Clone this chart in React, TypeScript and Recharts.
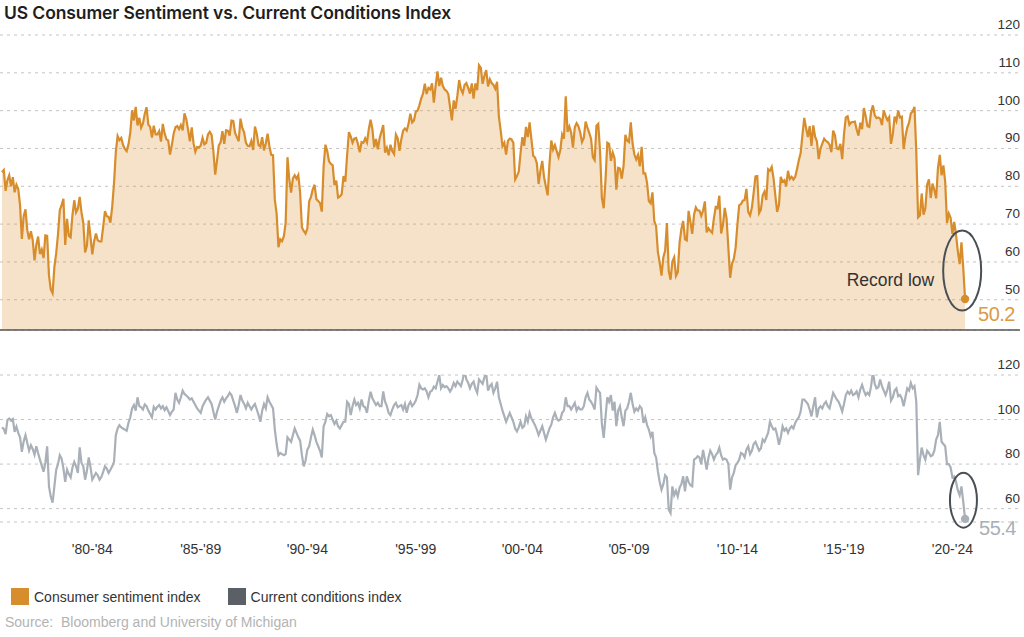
import React from "react";
import {
  AreaChart,
  Area,
  LineChart,
  Line,
  XAxis,
  YAxis,
  CartesianGrid,
  ReferenceLine,
  ReferenceDot,
} from "recharts";

// Monthly readings, Jan 1978 .. Jun 2022 (preliminary)
const sentiment = [
  83.7, 84.3, 78.8, 81.6, 82.9, 80.0, 82.4, 78.4, 80.4, 79.3, 75.0, 66.1,
  72.1, 73.9, 68.4, 66.0, 68.1, 65.8, 60.4, 64.5, 66.7, 62.1, 63.3, 61.0,
  67.0, 66.9, 56.5, 52.7, 51.7, 58.7, 62.3, 67.3, 73.7, 75.0, 76.7, 64.5,
  71.4, 66.9, 66.5, 72.4, 76.3, 73.1, 74.1, 77.2, 73.1, 70.3, 62.5, 64.3,
  71.0, 66.5, 62.0, 65.5, 67.5, 65.7, 65.4, 65.4, 69.3, 73.4, 72.1, 71.9,
  70.4, 74.6, 80.8, 89.1, 93.3, 92.2, 92.8, 90.9, 89.9, 89.3, 91.1, 94.2,
  100.1, 97.4, 101.0, 96.1, 98.1, 95.5, 96.6, 99.1, 100.9, 96.3, 95.7, 92.9,
  96.0, 93.7, 93.7, 94.6, 91.8, 96.5, 94.0, 92.4, 92.1, 88.4, 90.9, 93.9,
  95.6, 95.9, 95.1, 96.2, 94.8, 99.3, 97.7, 94.9, 91.9, 95.6, 91.4, 89.1,
  90.4, 90.2, 90.8, 92.8, 91.1, 91.5, 93.7, 94.4, 93.6, 89.3, 83.1, 86.8,
  90.8, 91.6, 94.6, 91.2, 94.8, 94.7, 93.4, 97.4, 97.3, 94.1, 93.0, 91.9,
  97.9, 95.4, 94.3, 91.5, 90.7, 90.6, 92.0, 89.6, 95.8, 93.9, 90.9, 90.5,
  93.0, 89.5, 91.3, 93.9, 90.6, 88.3, 88.2, 76.4, 72.8, 63.9, 66.0, 65.5,
  66.8, 70.4, 87.7, 81.8, 78.3, 82.1, 82.9, 82.0, 83.0, 78.3, 69.1, 68.2,
  67.5, 68.8, 76.0, 77.2, 79.2, 80.4, 76.6, 76.1, 75.6, 73.3, 85.3, 91.0,
  89.3, 86.6, 85.9, 85.6, 80.3, 81.5, 77.0, 77.3, 77.9, 82.7, 81.2, 88.2,
  94.3, 93.2, 91.5, 92.6, 92.8, 91.2, 89.0, 91.7, 91.5, 92.7, 91.6, 95.1,
  97.6, 95.1, 90.3, 92.5, 89.8, 92.7, 94.4, 96.2, 88.9, 90.2, 88.2, 91.0,
  89.3, 88.5, 93.7, 92.7, 89.4, 92.4, 94.7, 95.3, 94.7, 96.5, 99.2, 96.9,
  97.4, 99.7, 100.0, 101.4, 103.2, 104.5, 107.1, 104.4, 106.0, 105.6, 107.2, 102.1,
  106.6, 110.4, 106.5, 108.7, 106.5, 105.6, 105.2, 104.4, 100.9, 97.4, 102.7, 100.5,
  103.9, 108.1, 105.7, 104.6, 106.8, 107.3, 106.0, 104.5, 107.2, 103.2, 107.2, 105.4,
  112.0, 111.3, 107.1, 109.2, 110.7, 106.4, 108.3, 107.3, 106.8, 105.8, 107.6, 98.4,
  94.7, 90.6, 91.5, 88.4, 92.0, 92.6, 92.4, 91.5, 81.8, 82.7, 83.9, 88.8,
  93.0, 90.7, 95.7, 93.0, 96.9, 92.4, 88.1, 87.6, 86.1, 80.6, 84.2, 86.7,
  82.4, 79.9, 77.6, 86.0, 92.1, 89.7, 90.9, 89.3, 87.7, 89.6, 93.7, 92.6,
  103.8, 94.4, 95.8, 94.2, 90.2, 95.6, 96.7, 95.9, 94.2, 91.7, 92.8, 97.1,
  95.5, 94.1, 92.6, 87.7, 86.9, 96.0, 96.5, 89.1, 76.9, 74.2, 81.6, 91.5,
  91.2, 86.7, 88.9, 87.4, 79.1, 84.9, 84.7, 82.0, 85.4, 93.6, 92.1, 91.7,
  96.9, 91.3, 88.4, 87.1, 88.3, 85.3, 90.4, 83.4, 83.4, 80.9, 76.1, 75.5,
  78.4, 70.8, 69.5, 62.6, 59.8, 56.4, 61.2, 63.0, 70.3, 57.6, 55.3, 60.1,
  61.2, 56.3, 57.3, 65.1, 68.7, 70.8, 66.0, 65.7, 73.5, 70.6, 67.4, 72.5,
  74.4, 73.6, 73.6, 72.2, 73.6, 76.0, 67.8, 68.9, 68.2, 67.7, 71.6, 74.5,
  74.2, 77.5, 67.5, 69.8, 74.3, 71.5, 63.7, 55.8, 59.5, 60.8, 63.7, 69.9,
  75.0, 75.3, 76.2, 76.4, 79.3, 73.2, 72.3, 74.3, 78.3, 82.6, 82.7, 72.9,
  73.8, 77.6, 78.6, 76.4, 84.5, 84.1, 85.1, 82.1, 77.5, 73.2, 75.1, 82.5,
  81.2, 81.6, 80.0, 84.1, 81.9, 82.5, 81.8, 82.5, 84.6, 86.9, 88.8, 93.6,
  98.1, 95.4, 93.0, 95.9, 90.7, 96.1, 93.1, 91.9, 87.2, 90.0, 91.3, 92.6,
  92.0, 91.7, 91.0, 89.0, 94.7, 93.5, 90.0, 89.8, 91.2, 87.2, 93.8, 98.2,
  98.5, 96.3, 96.9, 97.0, 97.1, 95.0, 93.4, 96.8, 95.1, 100.7, 98.5, 95.9,
  95.7, 99.7, 101.4, 98.8, 98.0, 98.2, 97.9, 96.2, 100.1, 98.6, 97.5, 98.3,
  91.2, 93.8, 98.4, 97.2, 100.0, 98.2, 98.4, 89.8, 93.2, 95.5, 96.8, 99.3,
  99.8, 101.0, 89.1, 71.8, 72.3, 78.1, 72.5, 74.1, 80.4, 81.8, 76.9, 80.7,
  79.0, 76.8, 84.9, 88.3, 82.9, 85.5, 81.2, 70.3, 72.8, 71.7, 67.4, 70.6,
  67.2, 62.8, 59.4, 65.2, 58.4, 50.2,
];

const conditions = [
  96.5, 95.8, 93.5, 99.8, 100.5, 99.6, 100.2, 94.5, 96.8, 94.0, 92.0, 85.5,
  90.2, 93.0, 89.5, 86.0, 88.5, 86.8, 84.2, 88.0, 84.9, 82.0, 79.3, 76.6,
  80.5, 88.0, 70.0, 65.4, 62.7, 70.0, 77.5, 80.0, 84.0, 82.5, 78.0, 72.0,
  77.5, 75.5, 74.0, 78.5, 81.0, 79.0, 76.0, 87.5, 80.5, 79.0, 73.0, 77.0,
  83.0, 78.5, 73.0, 74.5, 76.0, 75.0, 73.0, 74.2, 76.5, 79.0, 78.0, 76.0,
  77.5, 79.0, 81.0, 93.0, 96.0, 97.5, 96.5, 96.0, 95.5, 95.0, 98.5, 101.0,
  105.0, 106.5, 104.0, 110.0, 106.0, 105.5, 104.5, 106.8, 106.0, 104.0, 102.5, 101.0,
  105.7, 104.5, 105.8, 106.5, 105.0, 106.0, 104.2, 105.5, 103.8, 102.0, 103.5, 104.5,
  112.0, 109.0, 107.5, 110.0, 113.0, 111.5, 110.8, 110.0, 109.0, 109.5, 108.0, 106.5,
  105.0, 104.0, 103.0, 106.0, 107.5, 109.0, 110.0, 108.5, 107.0, 103.5, 100.0, 103.5,
  106.0, 108.5, 110.0, 108.0, 109.5, 110.5, 112.0, 111.0, 108.5, 106.0, 103.0, 106.5,
  111.0, 108.5, 107.0, 105.0, 107.5, 106.0, 104.5, 106.0, 107.0, 104.5, 102.0, 99.0,
  104.0, 107.0, 105.0, 110.0, 108.0, 106.5, 105.0, 95.5, 89.0, 84.0, 85.0, 84.5,
  84.0, 84.5, 92.0, 91.0, 90.0, 93.0, 96.0, 94.0, 92.0, 90.5, 84.0, 79.0,
  81.5, 86.5, 88.0, 92.0, 95.5, 93.0, 90.0, 88.0, 86.0, 83.0, 97.0, 99.0,
  102.5, 101.5, 102.0, 100.0, 98.0, 99.5, 97.0, 96.0, 97.5, 99.0, 99.0, 108.0,
  107.0, 102.0, 106.0, 109.0, 106.5, 107.5, 105.0, 109.0, 106.0, 105.5, 103.0, 108.5,
  112.5, 109.5, 108.0, 106.5, 107.5, 106.0, 106.0, 112.6, 108.0, 106.0, 103.0, 102.0,
  104.5, 106.5, 107.5, 105.5, 106.0, 106.5, 104.5, 107.0, 103.0, 106.5, 108.0, 106.0,
  107.0, 108.5, 111.0, 115.6, 114.0, 113.5, 114.0, 112.6, 110.0, 112.5, 113.0, 114.8,
  114.0, 117.0, 120.0, 114.0, 115.5, 114.5, 115.0, 114.0, 112.6, 114.0, 116.4, 115.0,
  117.0, 116.0, 115.0, 118.0, 122.0, 118.0, 116.5, 114.0, 116.0, 117.0, 114.0, 112.0,
  118.0, 117.0, 116.0, 119.0, 120.5, 113.0, 115.0, 116.0, 112.0, 114.0, 117.0, 110.0,
  107.0, 104.0, 101.5, 99.0, 101.0, 103.0, 101.0, 99.0, 96.0, 94.7, 96.5, 99.0,
  96.3, 97.0, 101.4, 99.0, 103.0, 100.5, 99.0, 97.5, 95.5, 93.0, 95.0, 97.0,
  94.0, 91.0, 93.5, 96.0, 97.7, 101.0, 103.0, 100.5, 99.5, 100.0, 103.0, 104.0,
  110.0, 106.0, 106.0, 104.5, 106.0, 107.5, 104.0, 105.5, 104.5, 104.5, 106.0, 110.0,
  112.0, 109.0, 108.0, 106.5, 104.5, 114.3, 113.0, 112.0, 98.0, 91.8, 101.0, 110.0,
  108.0, 111.0, 104.0, 108.0, 97.0, 104.0, 106.0, 101.0, 97.0, 104.0, 105.0, 108.0,
  112.0, 107.0, 103.5, 105.0, 104.0, 106.0, 105.0, 98.5, 101.0, 97.5, 95.5, 92.4,
  94.5, 85.0, 83.0, 76.7, 72.0, 68.5, 71.0, 75.0, 74.0, 59.5, 58.0, 70.0,
  66.0, 68.0, 65.5, 69.4, 71.0, 74.5, 67.8, 74.5, 72.0, 70.5, 70.0, 82.0,
  82.5, 83.5, 83.0, 80.0, 86.4, 82.0, 77.5, 83.0, 86.0, 84.5, 82.0, 84.0,
  85.0, 87.4, 84.0, 82.0, 82.5, 82.0, 80.0, 68.5, 74.0, 76.0, 79.5, 80.5,
  82.0, 85.0, 84.5, 83.0, 86.5, 88.0, 84.5, 86.0, 89.0, 90.0, 88.0, 86.0,
  87.0, 91.0, 90.0, 92.0, 94.0, 99.0, 97.0, 95.5, 96.0, 93.0, 88.7, 92.0,
  97.0, 95.0, 96.0, 94.0, 96.0, 97.0, 96.0, 98.5, 100.0, 101.0, 103.6, 109.0,
  109.0, 108.0, 107.0, 104.5, 101.4, 106.0, 110.0, 101.0, 105.0, 106.0, 105.0, 107.0,
  108.0, 106.0, 105.0, 108.5, 112.0, 110.5, 109.0, 108.0, 106.0, 103.6, 107.0, 111.0,
  112.6, 111.5, 113.0, 111.0, 111.5, 112.6, 110.0, 113.5, 115.6, 113.0, 111.0, 112.0,
  111.0, 115.0, 121.6, 116.0, 114.0, 114.5, 118.0, 115.0, 113.0, 111.0, 113.5, 117.0,
  108.5, 110.0, 113.0, 114.0, 110.5, 111.0, 109.5, 106.0, 110.0, 114.0, 113.0, 116.4,
  114.0, 115.0, 108.0, 75.0, 82.0, 87.4, 84.0, 82.0, 86.0, 85.0, 83.5, 84.0,
  86.0, 91.0, 93.0, 99.0, 90.0, 89.0, 88.0, 80.0, 80.0, 78.5, 74.0, 74.5,
  72.0, 68.2, 66.0, 70.0, 63.0, 55.4,
];

// x-axis period labels and the month index they sit under
const periodLabels = ["'80-'84", "'85-'89", "'90-'94", "'95-'99", "'00-'04", "'05-'09", "'10-'14", "'15-'19", "'20-'24"];
const periodTicks = [50, 110, 169, 229, 288, 347, 407, 466, 526];

const sentimentTicks = [50, 60, 70, 80, 90, 100, 110, 120];
const conditionsTicks = [60, 80, 100, 120];

const ORANGE = "#D88D2C";
const GREY_LINE = "#A9B0B8";
const FONT = "'Liberation Sans', Arial, sans-serif";

const rows = sentiment.map((s, i) => ({ i, s, c: conditions[i] }));
const last = rows.length - 1;
const xDomain: [number, number] = [-1.1, 563.4];

const YTick = ({ x, y, payload }: any) => (
  <text x={x} y={y} dy={-6} textAnchor="end" fontSize={13.5} fill="#333" fontFamily={FONT}>
    {payload.value}
  </text>
);

const XTick = ({ x, y, payload }: any) => (
  <text x={x} y={y} dy={32} textAnchor="middle" fontSize={14} fill="#333" fontFamily={FONT}>
    {periodLabels[periodTicks.indexOf(payload.value)]}
  </text>
);

export default function App() {
  return (
    <div
      style={{
        position: "absolute",
        left: 0,
        top: 0,
        width: 1024,
        height: 637,
        background: "#fff",
        fontFamily: FONT,
        overflow: "hidden",
      }}
    >
      <div
        style={{
          position: "absolute",
          left: 4,
          top: 3,
          fontFamily: "Inter, 'Noto Sans', sans-serif",
          fontWeight: 600,
          fontSize: 17.5,
          lineHeight: "20px",
          color: "#1e1e1e",
          letterSpacing: -0.1,
        }}
      >
        US Consumer Sentiment vs. Current Conditions Index
      </div>

      {/* top panel: consumer sentiment */}
      <div style={{ position: "absolute", left: 0, top: 0 }}>
        <AreaChart width={1024} height={340} data={rows} margin={{ top: 35, right: 3, bottom: 10, left: 0 }}>
          <XAxis dataKey="i" type="number" domain={xDomain} allowDataOverflow hide />
          <YAxis
            orientation="right"
            width={1}
            domain={[42, 120]}
            ticks={sentimentTicks}
            interval={0}
            allowDataOverflow
            axisLine={false}
            tickLine={false}
            tickSize={0}
            tickMargin={0}
            tick={YTick}
          />
          <CartesianGrid vertical={false} strokeDasharray="3 4" stroke="#c4c4c4" />
          <Area
            dataKey="s"
            type="linear"
            stroke={ORANGE}
            strokeWidth={2.2}
            fill="#D98C28"
            fillOpacity={0.25}
            dot={false}
            activeDot={false}
            isAnimationActive={false}
          />
          <ReferenceLine y={42} stroke="#555" strokeWidth={1.5} />
          <ReferenceDot
            x={531.4}
            y={57.7}
            r={0}
            shape={(p: any) => (
              <g>
                <ellipse cx={p.cx} cy={p.cy} rx={19} ry={40} fill="none" stroke="#4a4f55" strokeWidth={2} />
                <text x={p.cx - 28} y={p.cy + 15} textAnchor="end" fontSize={17.5} fill="#333" fontFamily={FONT}>
                  Record low
                </text>
              </g>
            )}
          />
          <ReferenceDot
            x={last}
            y={sentiment[last]}
            r={4}
            shape={(p: any) => (
              <g>
                <circle cx={p.cx} cy={p.cy} r={4.2} fill={ORANGE} />
                <text x={p.cx + 13} y={p.cy + 22} fontSize={20} fill="#DB9A45" fontFamily={FONT} letterSpacing={-0.5}>
                  {sentiment[last]}
                </text>
              </g>
            )}
          />
        </AreaChart>
      </div>

      {/* bottom panel: current conditions */}
      <div style={{ position: "absolute", left: 0, top: 340 }}>
        <LineChart width={1024} height={220} data={rows} margin={{ top: 35, right: 3, bottom: 8, left: 0 }}>
          <XAxis
            dataKey="i"
            type="number"
            domain={xDomain}
            allowDataOverflow
            ticks={periodTicks}
            interval={0}
            height={30}
            axisLine={false}
            tickLine={false}
            tickSize={0}
            tickMargin={0}
            tick={XTick}
          />
          <YAxis
            orientation="right"
            width={1}
            domain={[54, 120]}
            ticks={conditionsTicks}
            interval={0}
            allowDataOverflow
            axisLine={false}
            tickLine={false}
            tickSize={0}
            tickMargin={0}
            tick={YTick}
          />
          <CartesianGrid vertical={false} strokeDasharray="3 4" stroke="#c4c4c4" />
          <Line
            dataKey="c"
            type="linear"
            stroke={GREY_LINE}
            strokeWidth={2.2}
            dot={false}
            activeDot={false}
            isAnimationActive={false}
          />
          <ReferenceDot
            x={532.1}
            y={63.8}
            r={0}
            shape={(p: any) => (
              <ellipse cx={p.cx} cy={p.cy} rx={13.5} ry={27.5} fill="none" stroke="#4a4f55" strokeWidth={2} />
            )}
          />
          <ReferenceDot
            x={last}
            y={conditions[last]}
            r={4}
            shape={(p: any) => (
              <g>
                <circle cx={p.cx} cy={p.cy} r={4.2} fill={GREY_LINE} />
                <text x={p.cx + 14} y={p.cy + 16} fontSize={20} fill={GREY_LINE} fontFamily={FONT} letterSpacing={-0.5}>
                  {conditions[last]}
                </text>
              </g>
            )}
          />
        </LineChart>
      </div>

      {/* legend */}
      <div style={{ position: "absolute", left: 11, top: 588, display: "flex", alignItems: "center", fontSize: 14, color: "#333" }}>
        <span style={{ width: 18, height: 17, background: ORANGE, display: "inline-block", marginRight: 5 }} />
        <span style={{ marginRight: 27 }}>Consumer sentiment index</span>
        <span style={{ width: 18, height: 17, background: "#5B5F66", display: "inline-block", marginRight: 5 }} />
        <span>Current conditions index</span>
      </div>

      <div style={{ position: "absolute", left: 5, top: 613, fontSize: 14, lineHeight: "18px", color: "#b3b3b3", whiteSpace: "pre" }}>
        {"Source:  Bloomberg and University of Michigan"}
      </div>
    </div>
  );
}
